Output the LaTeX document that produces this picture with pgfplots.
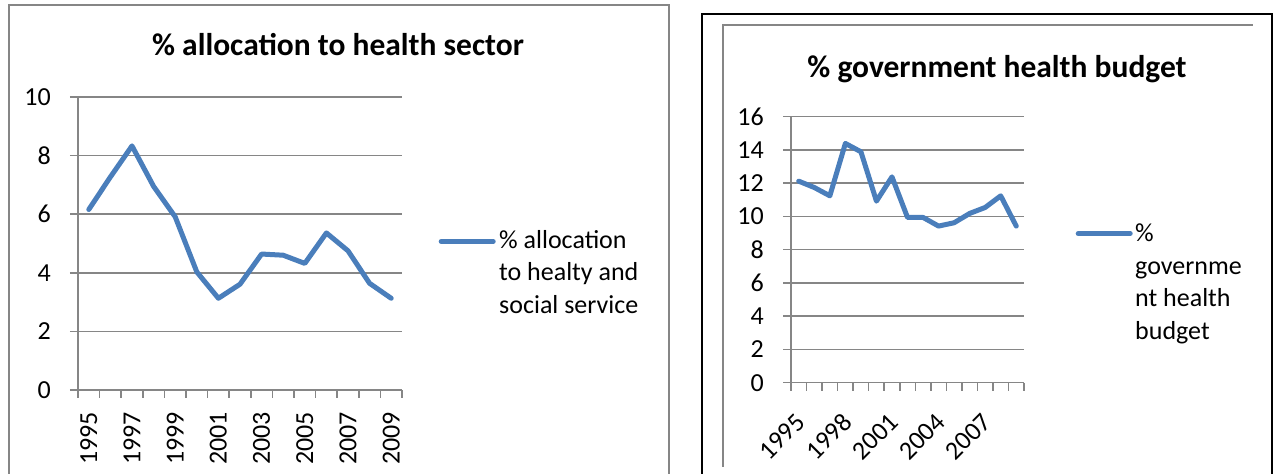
\documentclass[border=0pt]{standalone}
\usepackage{pgfplots}
\pgfplotsset{compat=1.18}
\usepackage{fontspec}
\setmainfont{Carlito}

\definecolor{xlblue}{RGB}{74,126,187}
\definecolor{xlgray}{RGB}{134,134,134}

\pgfplotstableread{
x y
0 6.16
1 7.27
2 8.33
3 6.95
4 5.91
5 4.03
6 3.13
7 3.61
8 4.64
9 4.60
10 4.32
11 5.36
12 4.75
13 3.64
14 3.13
}\allocdata

\pgfplotstableread{
x y
0 12.12
1 11.74
2 11.24
3 14.39
4 13.89
5 10.92
6 12.38
7 9.94
8 9.94
9 9.42
10 9.62
11 10.18
12 10.54
13 11.24
14 9.42
}\govdata

\pgfplotsset{
  xlstyle/.style={
    scale only axis,
    anchor=south west,
    axis x line*=bottom, axis y line*=left,
    axis line style={xlgray, line width=1.5bp, -},
    ymajorgrids, major grid style={xlgray, line width=1.5bp},
    tick align=outside,
    major tick length=8bp, minor tick length=8bp,
    tick style={xlgray, line width=1.5bp},
    major x tick style={draw=none},
    xmin=-0.5, xmax=14.5,
    minor xtick={-0.5,0.5,...,14.5},
    ymin=0,
    tick label style={font=\fontsize{26bp}{31bp}\selectfont, black},
    yticklabel style={anchor=east, inner sep=0pt, xshift=-19bp},
    legend style={draw=none, fill=none, font=\fontsize{26bp}{32.5bp}\selectfont, cells={align=left}, inner sep=0pt, anchor=north west},
    legend cell align=left,
    title style={font=\fontsize{31.5bp}{36bp}\selectfont\bfseries, anchor=center},
  }
}

\begin{document}
\begin{tikzpicture}[x=1bp,y=1bp]
\useasboundingbox (0,0) rectangle (1273,474);
% frames
\draw[xlgray, line width=2bp] (8.5,-5) -- (8.5,469) -- (669,469) -- (669,-5);
\draw[black, line width=1.5bp] (702,-5) -- (702,460) -- (1272,460) -- (1272,-5);
\draw[xlgray, line width=1.5bp] (723,7) -- (723,449) -- (1253,449);

\begin{axis}[xlstyle,
  at={(78bp,84bp)}, width=324bp, height=293bp,
  ymax=10, ytick={0,2,4,6,8,10}, yticklabels={0,2,4,6,8,10},
  xtick={0,2,4,6,8,10,12,14},
  xticklabels={1995,1997,1999,2001,2003,2005,2007,2009},
  xticklabel style={yshift=-14bp, rotate=90, anchor=east, inner sep=0pt},
  title={\% allocation to health sector},
  title style={at={(0.8025,1.158)}},
  legend style={at={(1.1204,0.553)}},
  legend image code/.code={\path[draw=none] (0bp,0bp) -- (56bp,0bp); \draw[#1, overlay] (0bp,31bp) -- (52bp,31bp);},
]
\addplot[xlblue, line width=5bp, line join=round, line cap=round] table[x=x,y=y] {\allocdata};
\addlegendentry{\% allocation\\to healty and\\social service}
\end{axis}

\begin{axis}[xlstyle,
  at={(791bp,91.3bp)}, width=233bp, height=266bp,
  ymax=16, ytick={0,2,4,6,8,10,12,14,16}, yticklabels={0,2,4,6,8,10,12,14,16},
  xtick={0,3,6,9,12},
  xticklabels={1995,1998,2001,2004,2007},
  xticklabel style={xshift=2bp, yshift=-27bp, rotate=45, anchor=east, inner sep=0pt},
  title={\% government health budget},
  title style={at={(0.884,1.157)}},
  legend style={at={(1.2318,0.604)}},
  legend image code/.code={\path[draw=none] (0bp,0bp) -- (55bp,0bp); \draw[#1, overlay] (0bp,49bp) -- (52bp,49bp);},
]
\addplot[xlblue, line width=5bp, line join=round, line cap=round] table[x=x,y=y] {\govdata};
\addlegendentry{\%\\governme\\nt health\\budget}
\end{axis}
\end{tikzpicture}
\end{document}
